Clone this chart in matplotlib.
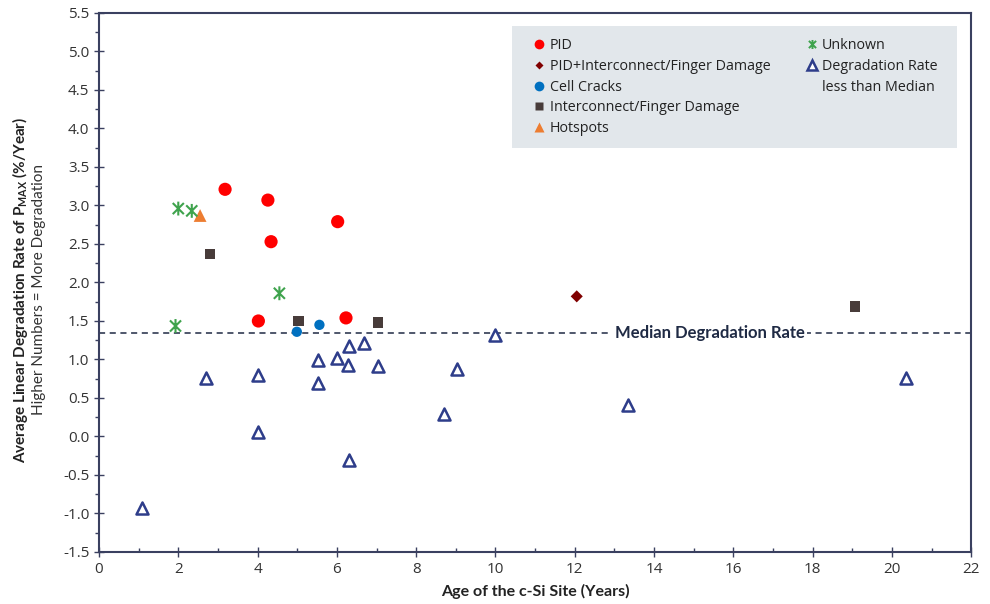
import numpy as np
import matplotlib.pyplot as plt
from matplotlib.lines import Line2D
from matplotlib.patches import Rectangle
from matplotlib.path import Path
from matplotlib.ticker import MultipleLocator

# Data
pid_x = [3.18, 4.26, 4.34, 6.02, 4.02, 6.23]
pid_y = [3.21, 3.07, 2.53, 2.79, 1.50, 1.54]

pid_ic_x = [12.05]
pid_ic_y = [1.82]

cracks_x = [4.99, 5.56]
cracks_y = [1.36, 1.45]

ic_x = [2.80, 5.03, 7.03, 19.07]
ic_y = [2.37, 1.50, 1.48, 1.69]

hot_x = [2.55]
hot_y = [2.87]

unk_x = [2.00, 2.34, 4.55, 1.93]
unk_y = [2.96, 2.93, 1.86, 1.435]

low_x = [1.08, 2.70, 4.02, 4.02, 5.52, 5.52, 6.01, 6.31, 6.27, 6.69, 7.03,
         6.31, 9.02, 8.70, 9.99, 13.35, 20.36]
low_y = [-0.93, 0.76, 0.80, 0.06, 0.99, 0.69, 1.02, 1.17, 0.93, 1.21, 0.91,
         -0.30, 0.88, 0.29, 1.32, 0.41, 0.76]

median_rate = 1.35

plt.rcParams['font.family'] = ['Open Sans', 'DejaVu Sans']
plt.rcParams['mathtext.default'] = 'regular'

navy = '#2e3d8a'
spine_col = '#3a4060'

# asterisk marker: vertical bar plus an x
star = Path([(0, -1), (0, 1), (-0.8, -0.8), (0.8, 0.8), (-0.8, 0.8), (0.8, -0.8)],
            [Path.MOVETO, Path.LINETO, Path.MOVETO, Path.LINETO, Path.MOVETO, Path.LINETO])

fig = plt.figure(figsize=(9.9, 6.04), dpi=100)
ax = fig.add_axes([0.1, 0.0861, 0.881, 0.8924])

ax.axhline(median_rate, color='#1f2a44', lw=1.1, ls=(0, (4, 3)), zorder=1)
ax.text(15.4, median_rate, 'Median Degradation Rate', ha='center', va='center',
        fontsize=12, fontweight='bold', color='#1f2a44', family='Lato',
        bbox=dict(facecolor='white', edgecolor='none', pad=2), zorder=2)

ax.scatter(low_x, low_y, marker='^', s=75, facecolors='white', edgecolors=navy,
           linewidths=1.8, zorder=3)
ax.scatter(pid_x, pid_y, marker='o', s=90, color='#ff0000', edgecolors='none', zorder=4)
ax.scatter(pid_ic_x, pid_ic_y, marker='D', s=38, color='#800000', edgecolors='none', zorder=4)
ax.scatter(cracks_x, cracks_y, marker='o', s=55, color='#0070c0', edgecolors='none', zorder=4)
ax.scatter(ic_x, ic_y, marker='s', s=55, color='#483c3a', edgecolors='none', zorder=4)
ax.scatter(hot_x, hot_y, marker='^', s=85, color='#ed7d31', edgecolors='none', zorder=4)
ax.scatter(unk_x, unk_y, marker=star, s=100, facecolors='none', edgecolors='#3fa34d',
           linewidths=1.5, zorder=4)

ax.set_xlim(0, 22)
ax.set_ylim(-1.5, 5.5)
ax.xaxis.set_major_locator(MultipleLocator(2))
ax.xaxis.set_minor_locator(MultipleLocator(1))
ax.yaxis.set_major_locator(MultipleLocator(0.5))
ax.yaxis.set_minor_locator(MultipleLocator(0.25))
ax.yaxis.set_major_formatter(plt.FormatStrFormatter('%.1f'))

for s in ax.spines.values():
    s.set_color(spine_col)
    s.set_linewidth(1.5)
ax.tick_params(which='major', direction='inout', length=7, width=1, color=spine_col,
               labelsize=11, labelcolor='#333333')
ax.tick_params(which='minor', direction='out', length=3, width=1, color=spine_col)
ax.tick_params(axis='x', which='minor', direction='in')

ax.set_xlabel('Age of the c-Si Site (Years)', fontsize=11.5, fontweight='bold',
              family='Lato', color='#222222', labelpad=5)

fig.text(0.02, 0.52, 'Average Linear Degradation Rate of P$_{MAX}$ (%/Year)',
         rotation=90, ha='center', va='center', fontsize=11, fontweight='bold',
         family='Lato', color='#222222')
fig.text(0.039, 0.52, 'Higher Numbers = More Degradation', rotation=90,
         ha='center', va='center', fontsize=11, family='Lato', color='#333333')

# legend background
ax.add_patch(Rectangle((0.4736, 0.7495), 0.5104, 0.2265, transform=ax.transAxes,
                       facecolor='#e2e7eb', edgecolor='none', zorder=5))

h1 = [
    Line2D([], [], ls='none', marker='o', ms=7, color='#ff0000', mec='none'),
    Line2D([], [], ls='none', marker='D', ms=4.5, color='#800000', mec='none'),
    Line2D([], [], ls='none', marker='o', ms=7, color='#0070c0', mec='none'),
    Line2D([], [], ls='none', marker='s', ms=6, color='#483c3a', mec='none'),
    Line2D([], [], ls='none', marker='^', ms=6.5, color='#ed7d31', mec='none'),
]
l1 = ['PID', 'PID+Interconnect/Finger Damage', 'Cell Cracks',
      'Interconnect/Finger Damage', 'Hotspots']
h2 = [
    Line2D([], [], ls='none', marker=star, ms=6.5, mfc='none', mec='#3fa34d', mew=1.4),
    Line2D([], [], ls='none', marker='^', ms=7, mfc='white', mec=navy, mew=1.8),
    Line2D([], [], ls='none', marker='none'),
]
l2 = ['Unknown', 'Degradation Rate', 'less than Median']

leg_kw = dict(loc='upper left', frameon=False, fontsize=10.3, handlelength=0.6,
              handletextpad=0.45, labelspacing=0.41, borderaxespad=0, borderpad=0)
leg1 = ax.legend(h1, l1, bbox_to_anchor=(0.5, 0.954), **leg_kw)
for t in leg1.get_texts():
    t.set_color('#222222')
leg1.set_zorder(6)
ax.add_artist(leg1)
leg2 = ax.legend(h2, l2, bbox_to_anchor=(0.812, 0.954), **leg_kw)
for t in leg2.get_texts():
    t.set_color('#222222')
leg2.set_zorder(6)

fig.savefig('out.png', dpi=100)
